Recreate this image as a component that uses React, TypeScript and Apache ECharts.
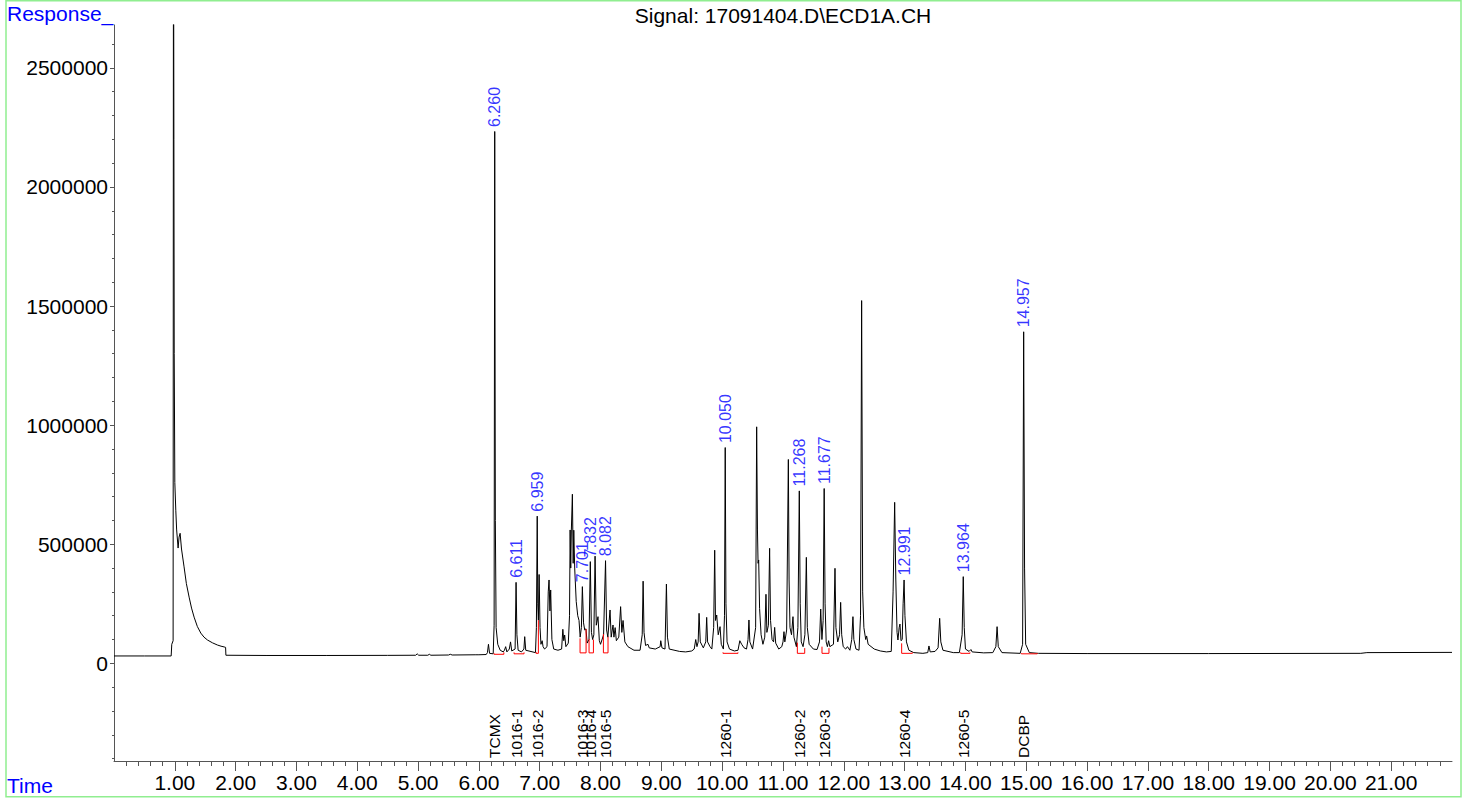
import React, { useEffect, useRef } from 'react';
import * as echarts from 'echarts';

const FONT = '"Liberation Sans", Arial, Helvetica, sans-serif';

// ---- Chromatogram trace: [time (min), response] ----
const traceSolvent: [number, number][] = [
  [0, 31000], [0.5, 31000], [0.94, 31000], [0.95, 80000], [0.972, 95000],
  [0.978, 3400000], [0.985, 2200000], [0.99, 1300000], [1.0, 760000], [1.016, 643000],
  [1.03, 560000], [1.054, 484000], [1.07, 530000], [1.087, 546000], [1.11, 480000],
  [1.152, 405000], [1.19, 335000], [1.235, 278000], [1.275, 232000], [1.317, 194000],
  [1.37, 155000], [1.427, 127000], [1.48, 110000], [1.537, 98000], [1.62, 86000],
  [1.7, 77000], [1.76, 72000], [1.81, 69000], [1.835, 67000], [1.84, 34000],
  [2.5, 33000], [3.5, 33000], [4.5, 33500], [4.96, 34000], [4.985, 40000],
  [5.01, 34000], [5.16, 34000], [5.185, 38000], [5.21, 34000], [5.5, 35000],
  [5.53, 38000], [5.56, 35000], [5.95, 36000],
];

const trace6to9: [number, number][] = [
  [6.0, 36000], [6.12, 37000], [6.14, 45000], [6.157, 80000], [6.175, 42000],
  [6.235, 40000], [6.25, 160000], [6.26, 2233000], [6.27, 600000], [6.283, 150000],
  [6.31, 80000], [6.35, 55000], [6.4, 48000], [6.42, 55000], [6.44, 70000],
  [6.46, 48000], [6.5, 60000], [6.52, 90000], [6.54, 52000], [6.595, 60000],
  [6.611, 340000], [6.625, 120000], [6.645, 55000], [6.7, 48000], [6.74, 60000],
  [6.753, 112000], [6.77, 55000], [6.93, 45000], [6.945, 150000], [6.959, 618000],
  [6.968, 250000], [6.978, 181000], [6.99, 373000], [7.005, 150000], [7.02, 80000],
  [7.04, 95000], [7.055, 70000], [7.08, 60000], [7.12, 70000], [7.14, 300000],
  [7.153, 350000], [7.168, 220000], [7.18, 308000], [7.2, 100000], [7.23, 60000],
  [7.3, 55000], [7.36, 60000], [7.38, 143000], [7.395, 95000], [7.41, 119000],
  [7.43, 70000], [7.47, 85000], [7.49, 200000], [7.5, 560000], [7.51, 400000],
  [7.52, 560000], [7.537, 710000], [7.55, 420000], [7.56, 559000], [7.575, 400000],
  [7.6, 260000], [7.625, 200000], [7.646, 180000], [7.665, 110000], [7.685, 150000],
  [7.701, 322000], [7.72, 170000], [7.74, 140000], [7.76, 145000], [7.78, 85000],
  [7.81, 100000], [7.832, 427000], [7.85, 130000], [7.87, 100000], [7.89, 120000],
  [7.91, 450000], [7.93, 160000], [7.958, 196000], [7.98, 95000], [8.0, 80000],
  [8.05, 120000], [8.082, 431000], [8.1, 140000], [8.12, 110000], [8.156, 224000],
  [8.175, 110000], [8.205, 161000], [8.22, 110000], [8.24, 150000], [8.26, 95000],
  [8.3, 110000], [8.33, 238000], [8.35, 130000], [8.37, 180000], [8.4, 90000],
  [8.45, 70000], [8.55, 55000], [8.65, 55000], [8.685, 120000], [8.7, 345000],
  [8.715, 130000], [8.74, 75000], [8.78, 80000], [8.8, 65000], [8.9, 60000],
  [8.98, 70000], [8.99, 95000], [9.01, 65000], [9.06, 60000], [9.083, 333000],
  [9.1, 110000], [9.13, 60000], [9.3, 50000], [9.4, 48000],
];

const trace9to12: [number, number][] = [
  [9.5, 52000], [9.54, 60000], [9.565, 100000], [9.585, 70000], [9.605, 90000],
  [9.62, 210000], [9.64, 90000], [9.69, 65000], [9.73, 90000], [9.745, 193000],
  [9.76, 90000], [9.8, 70000], [9.83, 60000], [9.86, 150000], [9.877, 475000],
  [9.89, 180000], [9.91, 203000], [9.935, 120000], [9.965, 154000], [9.985, 80000],
  [10.02, 60000], [10.038, 200000], [10.05, 906000], [10.062, 250000], [10.08, 90000],
  [10.12, 60000], [10.2, 52000], [10.26, 55000], [10.29, 95000], [10.32, 80000],
  [10.36, 65000], [10.4, 60000], [10.425, 100000], [10.44, 182000], [10.455, 90000],
  [10.5, 60000], [10.55, 150000], [10.567, 993000], [10.58, 560000], [10.59, 420000],
  [10.6, 434000], [10.615, 230000], [10.64, 120000], [10.67, 80000], [10.7, 110000],
  [10.72, 290000], [10.735, 130000], [10.76, 160000], [10.78, 483000], [10.795, 180000],
  [10.82, 100000], [10.845, 90000], [10.863, 151000], [10.88, 85000], [10.93, 60000],
  [10.98, 70000], [11.0, 90000], [11.016, 133000], [11.03, 90000], [11.06, 140000],
  [11.088, 856000], [11.1, 350000], [11.115, 150000], [11.14, 120000], [11.164, 196000],
  [11.18, 110000], [11.22, 70000], [11.245, 150000], [11.268, 724000], [11.283, 250000],
  [11.3, 90000], [11.33, 70000], [11.36, 120000], [11.384, 445000], [11.4, 150000],
  [11.43, 80000], [11.5, 60000], [11.56, 58000], [11.6, 90000], [11.62, 228000],
  [11.64, 100000], [11.66, 180000], [11.677, 734000], [11.692, 250000], [11.71, 90000],
  [11.73, 70000], [11.75, 95000], [11.77, 70000], [11.83, 80000], [11.855, 399000],
  [11.87, 150000], [11.9, 90000], [11.93, 120000], [11.948, 256000], [11.965, 120000],
  [11.99, 70000], [12.03, 60000], [12.06, 70000], [12.1, 55000], [12.13, 100000],
  [12.15, 196000], [12.165, 100000], [12.2, 60000], [12.25, 55000], [12.275, 200000],
  [12.293, 1523000], [12.31, 300000], [12.33, 150000], [12.36, 100000], [12.375, 115000],
  [12.4, 80000],
];

const trace12to22: [number, number][] = [
  [12.5, 60000], [12.6, 52000], [12.7, 48000], [12.78, 50000], [12.81, 300000],
  [12.836, 676000], [12.855, 350000], [12.875, 130000], [12.89, 98000], [12.91, 150000],
  [12.923, 165000], [12.94, 95000], [12.96, 100000], [12.975, 250000], [12.991, 350000],
  [13.005, 200000], [13.03, 90000], [13.07, 55000], [13.15, 45000], [13.3, 42000],
  [13.38, 45000], [13.4, 73000], [13.42, 48000], [13.5, 50000], [13.55, 65000],
  [13.576, 189000], [13.595, 90000], [13.63, 55000], [13.8, 45000], [13.9, 45000],
  [13.945, 120000], [13.964, 364000], [13.98, 150000], [14.0, 60000], [14.06, 50000],
  [14.09, 58000], [14.11, 48000], [14.3, 44000], [14.45, 45000], [14.5, 70000],
  [14.52, 154000], [14.54, 70000], [14.6, 45000], [14.9, 42000], [14.94, 80000],
  [14.957, 1392000], [14.972, 400000], [14.99, 80000], [15.05, 45000], [15.2, 42000],
  [16.0, 41000], [18.0, 41000], [20.5, 42000], [20.6, 45000], [22.0, 46000],
];

// ---- Integrated peaks ----
const peakTimes = [6.26, 6.611, 6.959, 7.701, 7.832, 8.082, 10.05, 11.268, 11.677, 12.991, 13.964, 14.957];
const peakHeights = [2233000, 340000, 618000, 322000, 427000, 431000, 906000, 724000, 734000, 350000, 364000, 1392000];
const peakLabels = ['6.260', '6.611', '6.959', '7.701', '7.832', '8.082', '10.050', '11.268', '11.677', '12.991', '13.964', '14.957'];
const compoundNames = ['TCMX', '1016-1', '1016-2', '1016-3', '1016-4', '1016-5', '1260-1', '1260-2', '1260-3', '1260-4', '1260-5', 'DCBP'];

// integration baselines (red)
const integStart = [6.249, 6.578, 6.94, 7.663, 7.811, 8.047, 10.013, 11.236, 11.641, 12.951, 13.921, 14.918];
const integEnd = [6.41, 6.742, 6.978, 7.762, 7.883, 8.123, 10.26, 11.357, 11.756, 13.127, 14.074, 15.18];
const integStartLevel = [42000, 46000, 48000, 105000, 102000, 123000, 46000, 87000, 70000, 84000, 46000, 43000];
const integEndLevel = [46000, 46000, 181000, 144000, 100000, 112000, 46000, 64000, 64000, 46000, 46000, 43000];
const integBase = [38000, 40000, 42000, 44000, 44000, 44000, 42000, 42000, 42000, 42000, 42000, 40000];

// ---- Axes ----
const X_MIN = 0;
const X_MAX = 22;
const Y_MIN = -410000;
const Y_MAX = 2680000;
const xMajorTicks = [1, 2, 3, 4, 5, 6, 7, 8, 9, 10, 11, 12, 13, 14, 15, 16, 17, 18, 19, 20, 21];
const yMajorTicks = [0, 500000, 1000000, 1500000, 2000000, 2500000];
const X_MINOR_STEP = 0.2;
const Y_MINOR_STEP = 100000;

const xMinorTicks: number[] = [];
for (let i = 1; i * X_MINOR_STEP < X_MAX - 1e-9; i++) {
  const v = Math.round(i * X_MINOR_STEP * 1000) / 1000;
  if (Math.abs(v - Math.round(v)) > 1e-6) xMinorTicks.push(v);
}
const yMinorTicks: number[] = [];
for (let v = -400000; v <= 2600000; v += Y_MINOR_STEP) {
  if (v % 500000 !== 0) yMinorTicks.push(v);
}

export default function App() {
  const ref = useRef<HTMLDivElement>(null);

  useEffect(() => {
    if (!ref.current) return;
    const chart = echarts.init(ref.current, undefined, { renderer: 'svg' });

    const trace = [...traceSolvent, ...trace6to9, ...trace9to12, ...trace12to22];

    const redData: any[] = [];
    integStart.forEach((s, i) => {
      redData.push([s, integStartLevel[i]]);
      redData.push([s, integBase[i]]);
      redData.push([integEnd[i], integBase[i]]);
      redData.push([integEnd[i], integEndLevel[i]]);
      redData.push([integEnd[i], '-']);
    });

    const axisColor = '#555';

    const option: any = {
      animation: false,
      backgroundColor: '#ffffff',
      textStyle: { fontFamily: FONT },
      grid: { left: 114, top: 25, width: 1338, height: 736, containLabel: false },
      xAxis: [
        {
          type: 'value', min: X_MIN, max: X_MAX, position: 'bottom',
          axisLine: { show: true, onZero: false, lineStyle: { color: axisColor, width: 1 } },
          axisTick: { show: true, customValues: xMajorTicks, length: 10, lineStyle: { color: axisColor } },
          axisLabel: {
            show: true, customValues: xMajorTicks, margin: 11, fontSize: 21, color: '#000',
            fontFamily: FONT, formatter: (v: number) => v.toFixed(2),
          },
          splitLine: { show: false },
        },
        {
          type: 'value', min: X_MIN, max: X_MAX, position: 'bottom', offset: 0,
          axisLine: { show: false, onZero: false },
          axisTick: { show: true, customValues: xMinorTicks, length: 5, lineStyle: { color: axisColor } },
          axisLabel: { show: false },
          splitLine: { show: false },
        },
      ],
      yAxis: [
        {
          type: 'value', min: Y_MIN, max: Y_MAX, position: 'left',
          axisLine: { show: true, onZero: false, lineStyle: { color: axisColor, width: 1 } },
          axisTick: { show: true, customValues: yMajorTicks, length: 4, lineStyle: { color: axisColor } },
          axisLabel: {
            show: true, customValues: yMajorTicks, margin: 6, fontSize: 21, color: '#000',
            fontFamily: FONT, formatter: (v: number) => String(v),
          },
          splitLine: { show: false },
        },
        {
          type: 'value', min: Y_MIN, max: Y_MAX, position: 'left', offset: 0,
          axisLine: { show: false, onZero: false },
          axisTick: { show: true, customValues: yMinorTicks, length: 2, lineStyle: { color: axisColor } },
          axisLabel: { show: false },
          splitLine: { show: false },
        },
      ],
      graphic: [
        {
          type: 'rect', silent: true, z: 100,
          shape: { x: 6, y: 0.75, width: 1455, height: 796 },
          style: { fill: 'none', stroke: '#90ee90', lineWidth: 1.5 },
        },
        {
          type: 'text', x: 783, y: 15,
          style: { text: 'Signal: 17091404.D\\ECD1A.CH', fill: '#000', fontSize: 21, fontFamily: FONT, align: 'center', verticalAlign: 'middle' },
        },
        {
          type: 'text', x: 7, y: 13,
          style: { text: 'Response_', fill: '#0000ff', fontSize: 21, fontFamily: FONT, align: 'left', verticalAlign: 'middle' },
        },
        {
          type: 'text', x: 7, y: 785,
          style: { text: 'Time', fill: '#0000ff', fontSize: 21, fontFamily: FONT, align: 'left', verticalAlign: 'middle' },
        },
      ],
      series: [
        {
          type: 'line', name: 'signal', xAxisIndex: 0, yAxisIndex: 0,
          data: trace, showSymbol: false, symbol: 'none', clip: true,
          lineStyle: { color: '#000', width: 1 }, z: 3, silent: true,
        },
        {
          type: 'line', name: 'baseline', xAxisIndex: 0, yAxisIndex: 0,
          data: redData, showSymbol: false, symbol: 'none', connectNulls: false,
          lineStyle: { color: '#ff0000', width: 1 }, z: 4, silent: true,
        },
        {
          type: 'scatter', name: 'rt', xAxisIndex: 0, yAxisIndex: 0, clip: false,
          data: peakTimes.map((t, i) => [t, peakHeights[i]]),
          symbolSize: 1, itemStyle: { color: 'rgba(0,0,0,0)' }, z: 5, silent: true,
          label: {
            show: true, position: 'top', distance: 4, rotate: 90, align: 'left', verticalAlign: 'middle',
            color: '#0000ff', fontSize: 16, fontFamily: FONT,
            formatter: (p: any) => peakLabels[p.dataIndex],
          },
        },
        {
          type: 'scatter', name: 'compound', xAxisIndex: 0, yAxisIndex: 0, clip: false,
          data: peakTimes.map((t) => [t, Y_MIN]),
          symbolSize: 1, itemStyle: { color: 'rgba(0,0,0,0)' }, z: 5, silent: true,
          label: {
            show: true, position: 'top', distance: 2.5, rotate: 90, align: 'left', verticalAlign: 'middle',
            color: '#000000', fontSize: 15.5, fontFamily: FONT, opacity: 1,
            formatter: (p: any) => compoundNames[p.dataIndex],
          },
        },
      ],
    };

    chart.setOption(option);
    return () => chart.dispose();
  }, []);

  return (
    <div
      ref={ref}
      style={{ position: 'fixed', left: 0, top: 0, width: 1465, height: 800, background: '#fff' }}
    />
  );
}
